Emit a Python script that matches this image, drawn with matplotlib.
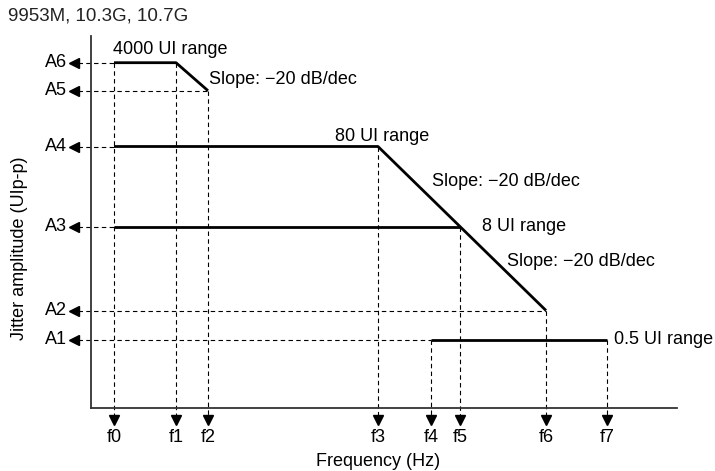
#!/usr/bin/env python3
"""Jitter tolerance mask schematic (9953M, 10.3G, 10.7G)."""

import matplotlib
matplotlib.use("Agg")
import matplotlib.pyplot as plt

plt.rcParams["font.family"] = ["Liberation Sans", "DejaVu Sans"]

# ---------------------------------------------------------------------------
# Schematic data (axis units)
# ---------------------------------------------------------------------------
freq_labels = ["f0", "f1", "f2", "f3", "f4", "f5", "f6", "f7"]
freq_pos = [23, 85, 117, 287, 340, 369, 455, 516]

amp_labels = ["A1", "A2", "A3", "A4", "A5", "A6"]
amp_pos = [67.7, 97.2, 181, 261.2, 317, 345]

# mask segments as (freq index, amp index) vertices
mask_4000ui = [(0, 5), (1, 5), (2, 4)]
mask_80ui = [(0, 3), (3, 3), (6, 1)]
mask_8ui = [(0, 2), (5, 2)]
mask_05ui = [(4, 0), (7, 0)]

# where each amplitude guide ends (freq index) and each freq guide starts (amp index)
amp_guide_end = [4, 6, 0, 0, 2, 0]
freq_guide_top = [5, 5, 4, 3, 0, 2, 1, 0]

# annotation text: (label, x, y)
notes = [
    ("4000 UI range", 22, 358.4),
    ("Slope: \u221220 dB/dec", 118, 328.7),
    ("80 UI range", 244, 271),
    ("Slope: \u221220 dB/dec", 340.7, 226),
    ("8 UI range", 390.7, 181),
    ("Slope: \u221220 dB/dec", 416.3, 146),
    ("0.5 UI range", 523, 68.7),
]

FS = 13
W, H = 715, 471

fig = plt.figure(figsize=(W / 100, H / 100), dpi=100)
ax = fig.add_axes([91 / W, (H - 407.7) / H, 586 / W, 371.7 / H])
ax.set_xlim(0, 586)
ax.set_ylim(0, 371.7)
ax.set_xticks([])
ax.set_yticks([])
for side in ("top", "right"):
    ax.spines[side].set_visible(False)
for side in ("left", "bottom"):
    ax.spines[side].set_color("#333333")
    ax.spines[side].set_linewidth(1.3)

dash_kw = dict(color="black", lw=0.8, dashes=(4, 3), clip_on=False, zorder=2)

# horizontal guides + left arrows + labels
for lab, y, fi in zip(amp_labels, amp_pos, amp_guide_end):
    ax.plot([-13, freq_pos[fi]], [y, y], **dash_kw)
    ax.plot(-17, y, marker="<", ms=6.5, color="black", clip_on=False, zorder=3)
    ax.text(-24.3, y, lab, ha="right", va="center", fontsize=FS)

# vertical guides + bottom arrows + labels
for lab, x, ai in zip(freq_labels, freq_pos, freq_guide_top):
    ax.plot([x, x], [amp_pos[ai], -7.3], **dash_kw)
    ax.plot(x, -12.3, marker="v", ms=6.5, color="black", clip_on=False, zorder=3)
    ax.text(x, -30.3, lab, ha="center", va="center", fontsize=FS)

# mask lines
for seg in (mask_4000ui, mask_80ui, mask_8ui, mask_05ui):
    xs = [freq_pos[i] for i, _ in seg]
    ys = [amp_pos[j] for _, j in seg]
    ax.plot(xs, ys, color="black", lw=2.0, solid_capstyle="butt", zorder=4)

for txt, x, y in notes:
    ax.text(x, y, txt, ha="left", va="center", fontsize=FS)

fig.text(8 / W, (H - 16) / H, "9953M, 10.3G, 10.7G", ha="left", va="center",
         fontsize=FS + 0.5, color="#222222")
fig.text(378 / W, (H - 461) / H, "Frequency (Hz)", ha="center", va="center",
         fontsize=FS)
fig.text(20 / W, (H - 248.5) / H, "Jitter amplitude (UIp-p)", ha="center",
         va="center", rotation=90, fontsize=FS)

fig.savefig("out.png", dpi=100)
plt.close(fig)
